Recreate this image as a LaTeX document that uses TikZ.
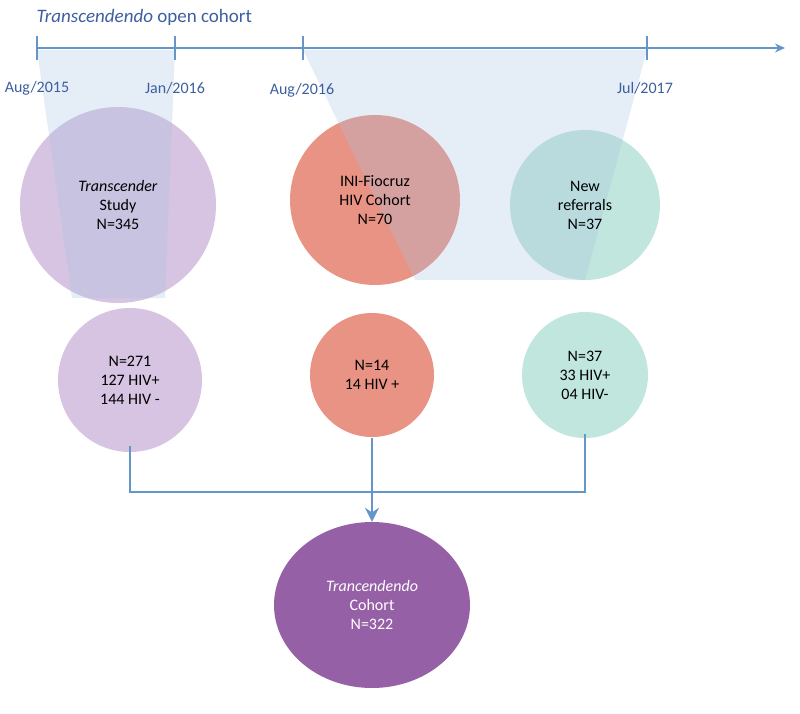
\documentclass[tikz,border=0pt]{standalone}
\usepackage{fontspec}
\setmainfont{Carlito}
\usetikzlibrary{arrows.meta,shapes.geometric}
\definecolor{tl}{RGB}{100,150,200}
\definecolor{tt}{RGB}{60,95,160}
\definecolor{cpur}{RGB}{214,196,226}
\definecolor{csal}{RGB}{233,147,132}
\definecolor{cteal}{RGB}{192,230,221}
\definecolor{cdark}{RGB}{150,96,166}
\definecolor{tzshade}{RGB}{170,195,225}
\begin{document}
\begin{tikzpicture}[x=1pt,y=-1pt,
  circ/.style={circle,draw=none,align=center,font=\fontsize{16}{19}\selectfont,inner sep=0pt},
  lab/.style={text=tt,font=\fontsize{16}{19}\selectfont},
  conn/.style={draw=tl,line width=1.4pt}]
\useasboundingbox (0,0) rectangle (800,714);
% circles first row
\node[circ,fill=cpur,minimum size=196pt] (c1) at (118,205) {};
\node[circ,fill=csal,minimum size=170pt] (c2) at (375,200) {};
\node[circ,fill=cteal,minimum size=150pt] (c3) at (585,205) {};
% shaded trapezoids
\fill[tzshade,opacity=0.3] (37,50) -- (175,50) -- (165,298) -- (72,298) -- cycle;
\fill[tzshade,opacity=0.3] (303,50) -- (647,50) -- (585,280) -- (415,280) -- cycle;
\node[circ] (t1) at (118,205) {\textit{Transcender}\\Study\\N=345};
\node[circ] (t2) at (375,200) {INI-Fiocruz\\HIV Cohort\\N=70};
\node[circ] (t3) at (585,205) {New\\referrals\\N=37};
% timeline
\node[lab,anchor=west,font=\fontsize{19}{22}\selectfont] (title) at (33,17) {\textit{Transcendendo} open cohort};
\coordinate (s) at (37,48); \coordinate (e) at (785,48);
\draw[conn,-{Stealth[length=10pt,width=9pt]}] (s) -- (e);
\foreach \x/\n in {37/a,175/b,303/c,647/d}{
  \coordinate (\n1) at (\x,36); \coordinate (\n2) at (\x,60);
  \draw[conn] (\n1) -- (\n2);}
\node[lab] (l1) at (37,88) {Aug/2015};
\node[lab] (l2) at (175,88) {Jan/2016};
\node[lab] (l3) at (302,90) {Aug/2016};
\node[lab] (l4) at (645,88) {Jul/2017};
% second row
\node[circ,fill=cpur,minimum size=144pt] (d1) at (130,380) {N=271\\127 HIV+\\144 HIV -};
\node[circ,fill=csal,minimum size=124pt] (d2) at (372,375) {N=14\\14 HIV +};
\node[circ,fill=cteal,minimum size=126pt] (d3) at (585,375) {N=37\\33 HIV+\\04 HIV-};
% bottom
\node[ellipse,fill=cdark,minimum width=196pt,minimum height=166pt,align=center,text=white,font=\fontsize{16}{19}\selectfont,inner sep=0pt] (f) at (372,605) {\textit{Trancendendo}\\Cohort\\N=322};
% connectors
\coordinate (j1) at (130,492); \coordinate (j3) at (585,492); \coordinate (j2) at (372,492);
\draw[conn] ([yshift=6pt]d1.south) -- (j1) -- (j3) -- ([yshift=4pt]d3.south);
\draw[draw=tl,line width=2.5pt,-{Stealth[length=14pt,width=14pt]}] ([yshift=-1pt]d2.south) -- (f.north);
\end{tikzpicture}
\end{document}
